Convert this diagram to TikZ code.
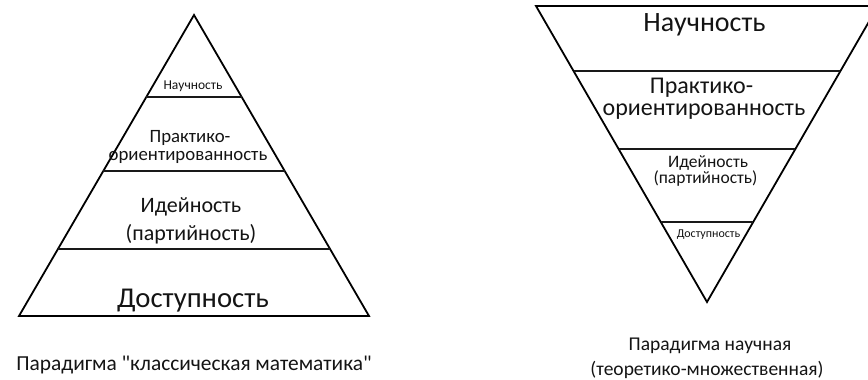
\documentclass[tikz,border=0pt]{standalone}
\usepackage{fontspec}
\setmainfont{Carlito}
\usetikzlibrary{calc}
\newcommand{\fsz}[1]{\fontsize{#1}{#1}\selectfont}
\tikzset{
  edge/.style={line width=1.8pt, line join=miter, black},
  layer/.style={line width=1.6pt, black!90},
  lbl/.style={anchor=base, inner sep=0pt, text=black!92},
}
\begin{document}
\begin{tikzpicture}[x=1pt,y=-1pt]
\useasboundingbox (0,0) rectangle (868,380);
\begin{scope}
\clip (0,0) rectangle (868,380);
% left pyramid
\coordinate (A) at (194,15);
\coordinate (BL) at (19,316);
\coordinate (BR) at (369,316);
\draw[edge] (BL) -- (A) -- (BR) -- cycle;
\draw[layer] ($(A)!0.2724!(BL)$) -- ($(A)!0.2724!(BR)$);
\draw[layer] ($(A)!0.5183!(BL)$) -- ($(A)!0.5183!(BR)$);
\draw[layer] ($(A)!0.7774!(BL)$) -- ($(A)!0.7774!(BR)$);
% right inverted pyramid
\coordinate (V) at (707,302);
\coordinate (TL) at (536,6);
\coordinate (TR) at (878,6);
\draw[edge] (TL) -- (V) -- (TR) -- cycle;
\draw[layer] ($(V)!0.7804!(TL)$) -- ($(V)!0.7804!(TR)$);
\draw[layer] ($(V)!0.5169!(TL)$) -- ($(V)!0.5169!(TR)$);
\draw[layer] ($(V)!0.2703!(TL)$) -- ($(V)!0.2703!(TR)$);
\end{scope}
% left labels
\node[lbl, font=\fsz{13.5}] (l1) at (193,89) {Научность};
\node[lbl, font=\fsz{18.8}] (l2a) at (190,142) {Практико-};
\node[lbl, font=\fsz{18.8}] (l2b) at (188,160) {ориентированность};
\node[lbl, font=\fsz{22}] (l3a) at (191,212) {Идейность};
\node[lbl, font=\fsz{22}] (l3b) at (191,240) {(партийность)};
\node[lbl, font=\fsz{28.7}] (l4) at (193,307) {Доступность};
\node[lbl, font=\fsz{21.4}] (lcap) at (194,370) {Парадигма \textquotedbl классическая математика\textquotedbl};
% right labels
\node[lbl, font=\fsz{28}] (r1) at (704.5,31) {Научность};
\node[lbl, font=\fsz{24}] (r2a) at (701.5,93) {Практико-};
\node[lbl, font=\fsz{24}] (r2b) at (704,115) {ориентированность};
\node[lbl, font=\fsz{17.5}] (r3a) at (708,167) {Идейность};
\node[lbl, font=\fsz{17.5}] (r3b) at (705.5,183) {(партийность)};
\node[lbl, font=\fsz{12}] (r4) at (708.5,237) {Доступность};
\node[lbl, font=\fsz{19.5}] (rcap1) at (710,350) {Парадигма научная};
\node[lbl, font=\fsz{19.5}] (rcap2) at (707,375) {(теоретико-множественная)};
\end{tikzpicture}
\end{document}
